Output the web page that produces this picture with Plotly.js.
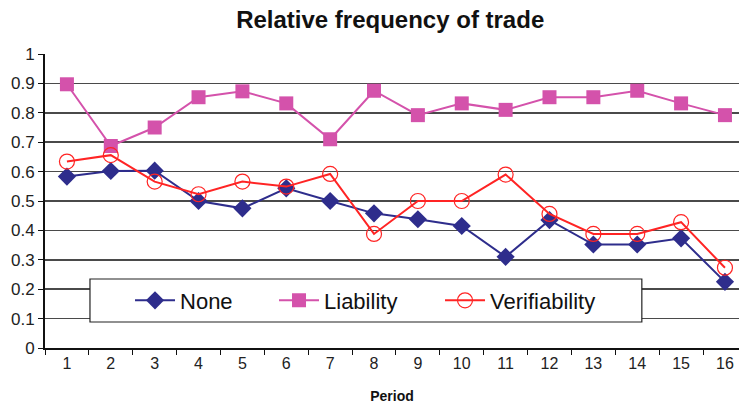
<!DOCTYPE html>
<html><head><meta charset="utf-8">
<script src="https://cdn.plot.ly/plotly-3.0.1.min.js"></script>
<style>body{margin:0;background:#fff}#c{width:739px;height:409px}</style>
</head><body><div id="c"></div>
<script>
const periods = ["1","2","3","4","5","6","7","8","9","10","11","12","13","14","15","16"];
const noneVals = [0.583,0.602,0.603,0.5,0.475,0.543,0.5,0.458,0.438,0.415,0.31,0.435,0.352,0.352,0.373,0.225];
const liabilityVals = [0.897,0.687,0.75,0.853,0.873,0.832,0.71,0.875,0.792,0.832,0.81,0.853,0.853,0.875,0.832,0.792];
const verifVals = [0.634,0.656,0.566,0.523,0.566,0.549,0.592,0.388,0.5,0.5,0.59,0.456,0.388,0.388,0.428,0.273];
const yTicks = [0,0.1,0.2,0.3,0.4,0.5,0.6,0.7,0.8,0.9,1];
const yTickText = ["0","0.1","0.2","0.3","0.4","0.5","0.6","0.7","0.8","0.9","1"];

const traces = [
 {x:periods,y:noneVals,name:"None",type:"scatter",mode:"lines+markers",legendwidth:89,
  line:{color:"#2E2D8C",width:2},marker:{symbol:"diamond",size:14,color:"#2E2D8C"}},
 {x:periods,y:liabilityVals,name:"Liability",type:"scatter",mode:"lines+markers",legendwidth:111,
  line:{color:"#D452AB",width:2},marker:{symbol:"square",size:14,color:"#D452AB"}},
 {x:periods,y:verifVals,name:"Verifiability",type:"scatter",mode:"lines+markers",
  line:{color:"#FF2424",width:2},marker:{symbol:"circle-open",size:15,color:"#FF2424",line:{width:1.2}}}
];
const layout = {
 width:739,height:409,margin:{l:45,r:0,t:54,b:61},
 paper_bgcolor:"#fff",plot_bgcolor:"#fff",
 font:{family:"Arial, Liberation Sans, sans-serif",color:"#222"},
 title:{text:"<b>Relative frequency of trade</b>",x:0.528,xanchor:"center",y:0.953,yanchor:"middle",
  font:{size:24,color:"#111"}},
 showlegend:true,
 legend:{orientation:"h",x:0.1225,y:0.1616,xanchor:"left",yanchor:"middle",
  bgcolor:"rgba(0,0,0,0)",borderwidth:0,font:{size:22,color:"#111"},
  itemwidth:40,traceorder:"normal"},
 shapes:[{type:"rect",xref:"paper",yref:"paper",x0:0.0648,x1:0.860,y0:0.0884,y1:0.2347,
  fillcolor:"#fff",line:{color:"#222",width:1.2},layer:"above"}],
 xaxis:{type:"category",range:[-0.5,15.32],tickson:"boundaries",ticks:"outside",ticklen:5,
  tickcolor:"#111",showline:true,linecolor:"#111",linewidth:2,showgrid:false,
  tickfont:{size:16,color:"#222"},
  title:{text:"<b>Period</b>",font:{size:14,color:"#111"},standoff:20}},
 yaxis:{range:[0,1],tickvals:yTicks,ticktext:yTickText,ticks:"outside",ticklen:5,tickcolor:"#111",
  showline:true,linecolor:"#111",linewidth:2,showgrid:true,gridcolor:"#4a4a4a",gridwidth:1.5,
  zeroline:false,tickfont:{size:17,color:"#222"}}
};
Plotly.newPlot("c",traces,layout,{displayModeBar:false,staticPlot:true});
</script></body></html>
